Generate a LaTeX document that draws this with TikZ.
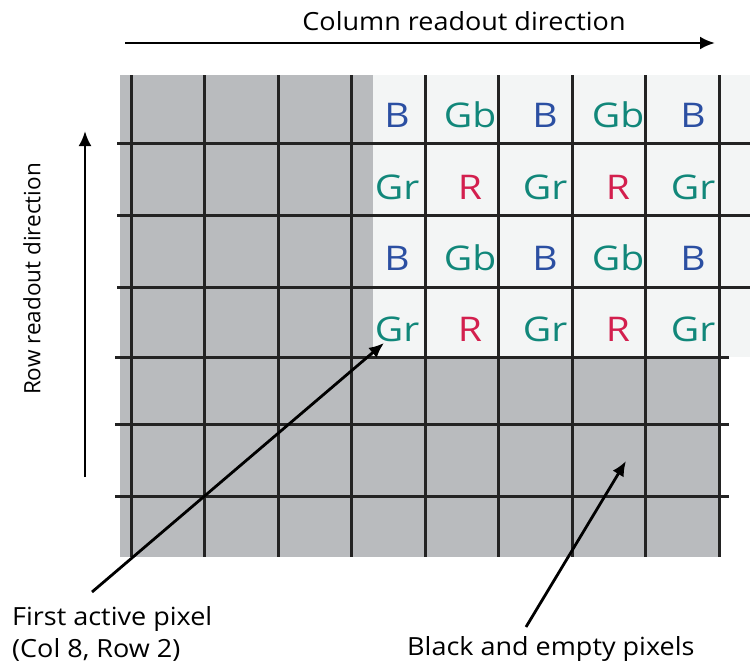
\documentclass[tikz,border=0pt]{standalone}
\usepackage{fontspec}
\setmainfont{Open Sans}
\newfontfamily\lblfont[FakeStretch=1.08]{Open Sans}
\newfontfamily\cellfont[FakeStretch=1.15]{Open Sans}
\usetikzlibrary{arrows.meta}
\definecolor{pgray}{HTML}{B9BBBE}
\definecolor{plight}{HTML}{F3F5F5}
\definecolor{cblue}{HTML}{2B4FA2}
\definecolor{cteal}{HTML}{11877A}
\definecolor{cred}{HTML}{D31F4E}
\definecolor{gline}{HTML}{232323}
\tikzset{
  gridline/.style={draw=gline, line width=3pt},
  arrowline/.style={draw=black, line width=2.8pt, -{Latex[length=15pt,width=13pt]}},
  lbl/.style={font=\lblfont\fontsize{25}{32}\selectfont, inner sep=0pt},
  vlbl/.style={font=\fontsize{22.5}{28}\selectfont, inner sep=0pt},
  cell/.style={font=\cellfont\fontsize{34}{36}\selectfont, inner sep=0pt},
  cB/.style={cell, text=cblue},
  cG/.style={cell, text=cteal},
  cR/.style={cell, text=cred}
}
\begin{document}
\begin{tikzpicture}[x=1pt,y=-1pt]
\useasboundingbox (0,0) rectangle (750,664);
% backgrounds
\fill[plight] (373,75) rectangle (750,357);
\fill[pgray] (120,75) rectangle (373,357);
\fill[pgray] (120,357) rectangle (720,557);
% grid
\foreach \i in {0,...,8}{
  \draw[gridline] ({131+73.5*\i},75) -- ({131+73.5*\i},557);
}
\foreach \y in {143,215,287}{
  \draw[gridline] (117,\y) -- (750,\y);
}
\foreach \y in {357,424,496}{
  \draw[gridline] (115,\y) -- (729,\y);
}
% cell letters
\node[cB] (r1c1) at (397,115) {B};
\node[cG] (r1c2) at (470,115) {Gb};
\node[cB] (r1c3) at (545,115) {B};
\node[cG] (r1c4) at (618,115) {Gb};
\node[cB] (r1c5) at (693,115) {B};
\node[cG] (r2c1) at (397,187) {Gr};
\node[cR] (r2c2) at (470,187) {R};
\node[cG] (r2c3) at (545,187) {Gr};
\node[cR] (r2c4) at (618,187) {R};
\node[cG] (r2c5) at (693,187) {Gr};
\node[cB] (r3c1) at (397,258) {B};
\node[cG] (r3c2) at (470,258) {Gb};
\node[cB] (r3c3) at (545,258) {B};
\node[cG] (r3c4) at (618,258) {Gb};
\node[cB] (r3c5) at (693,258) {B};
\node[cG] (r4c1) at (397,329) {Gr};
\node[cR] (r4c2) at (470,329) {R};
\node[cG] (r4c3) at (545,329) {Gr};
\node[cR] (r4c4) at (618,329) {R};
\node[cG] (r4c5) at (693,329) {Gr};
% labels
\node[lbl] (coltext) at (464,21) {Column readout direction};
\node[vlbl, rotate=90] (rowtext) at (32,279) {Row readout direction};
\node[lbl, anchor=west, align=left] (first) at (12,634) {First active pixel\\(Col 8, Row 2)};
\node[lbl, anchor=base west] (black) at (407,655) {Black and empty pixels};
% arrow coordinates
\coordinate (colS) at (125,43);
\coordinate (colE) at (715,43);
\coordinate (rowS) at (85,477);
\coordinate (rowE) at (85,131);
\coordinate (firstS) at (92,592);
\coordinate (firstE) at (384,343);
\coordinate (blackS) at (526,627);
\coordinate (blackE) at (626,461);
\draw[arrowline] (colS) -- (colE);
\draw[arrowline] (rowS) -- (rowE);
\draw[arrowline] (firstS) -- (firstE);
\draw[arrowline] (blackS) -- (blackE);
\end{tikzpicture}
\end{document}
